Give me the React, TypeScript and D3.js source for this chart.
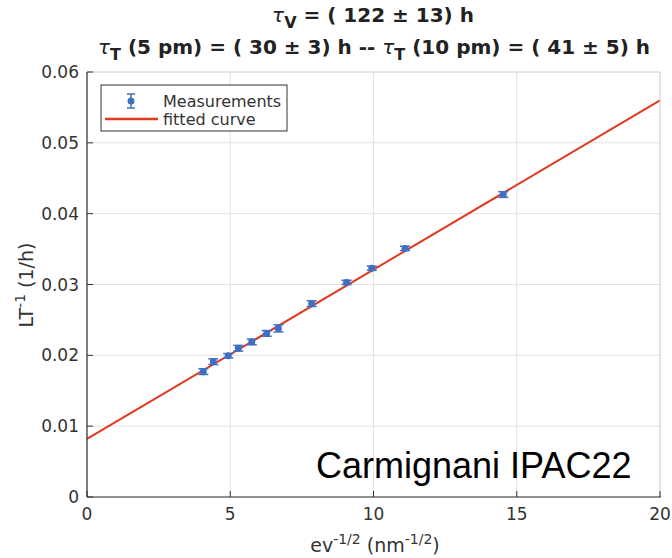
import React from "react";
import * as d3 from "d3";

const xTicks = [0, 5, 10, 15, 20];
const yTicks = [0, 0.01, 0.02, 0.03, 0.04, 0.05, 0.06];
const yTickLabels = ["0", "0.01", "0.02", "0.03", "0.04", "0.05", "0.06"];
const measX = [4.06, 4.41, 4.93, 5.28, 5.75, 6.27, 6.68, 7.84, 9.06, 9.94, 11.1, 14.53];
const measY = [0.0177, 0.0191, 0.01995, 0.021, 0.0219, 0.0231, 0.0238, 0.0273, 0.0303, 0.0323, 0.0351, 0.0427];
const measErr = [0.0004, 0.0004, 0.0003, 0.0004, 0.0004, 0.0004, 0.0005, 0.0004, 0.0003, 0.0003, 0.0003, 0.0004];
const fitIntercept = 0.0082;
const fitSlope = 0.00239;
const fitX = [0, 20];

export default function App() {
  const W = 672, H = 558;
  const x = d3.scaleLinear().domain([0, 20]).range([87, 660]);
  const y = d3.scaleLinear().domain([0, 0.06]).range([497, 72]);
  const line = d3.line<number>().x(d => x(d)).y(d => y(fitIntercept + fitSlope * d));
  const font = "DejaVu Sans, sans-serif";
  const blue = "#3E6FC2";
  const red = "#E0391F";
  return (
    <svg width={W} height={H} style={{ position: "absolute", left: 0, top: 0, background: "#fff" }}>
      <rect width={W} height={H} fill="#fff" />
      {xTicks.map(t => (
        <line key={"gx" + t} x1={x(t)} x2={x(t)} y1={y(0)} y2={y(0.06)} stroke="#e2e2e2" strokeWidth={1} />
      ))}
      {yTicks.map(t => (
        <line key={"gy" + t} x1={x(0)} x2={x(20)} y1={y(t)} y2={y(t)} stroke="#e2e2e2" strokeWidth={1} />
      ))}
      <path d={line(fitX) || ""} stroke={red} strokeWidth={2} fill="none" />
      {measX.map((mx, i) => {
        const cx = x(mx), cy = y(measY[i]);
        const top = y(measY[i] + measErr[i]), bot = y(measY[i] - measErr[i]);
        return (
          <g key={"m" + i}>
            <line x1={cx} x2={cx} y1={top} y2={bot} stroke={blue} strokeWidth={1.5} />
            <line x1={cx - 5} x2={cx + 5} y1={top} y2={top} stroke={blue} strokeWidth={1.5} />
            <line x1={cx - 5} x2={cx + 5} y1={bot} y2={bot} stroke={blue} strokeWidth={1.5} />
            <circle cx={cx} cy={cy} r={3.5} fill={blue} />
          </g>
        );
      })}
      <line x1={x(0)} x2={x(20)} y1={y(0.06)} y2={y(0.06)} stroke="#d8d8d8" />
      <line x1={x(20)} x2={x(20)} y1={y(0)} y2={y(0.06)} stroke="#d8d8d8" />
      <line x1={x(0)} x2={x(20) + 1} y1={y(0)} y2={y(0)} stroke="#333" strokeWidth={1.2} />
      <line x1={x(0)} x2={x(0)} y1={y(0)} y2={y(0.06)} stroke="#333" strokeWidth={1.2} />
      {xTicks.map(t => (
        <g key={"xt" + t}>
          <line x1={x(t)} x2={x(t)} y1={y(0)} y2={y(0) - 6} stroke="#333" />
          <text x={x(t)} y={y(0) + 23} textAnchor="middle" fontFamily={font} fontSize={17} fill="#333">{t}</text>
        </g>
      ))}
      {yTicks.map((t, i) => (
        <g key={"yt" + t}>
          <line x1={x(0)} x2={x(0) + 6} y1={y(t)} y2={y(t)} stroke="#333" />
          <text x={x(0) - 8} y={y(t) + 6} textAnchor="end" fontFamily={font} fontSize={17} fill="#333">{yTickLabels[i]}</text>
        </g>
      ))}
      <text x={375} y={552} textAnchor="middle" fontFamily={font} fontSize={19} fill="#333">
        ev<tspan dy={-8} fontSize={14}>-1/2</tspan><tspan dy={8}> (nm</tspan><tspan dy={-8} fontSize={14}>-1/2</tspan><tspan dy={8}>)</tspan>
      </text>
      <text transform="translate(33,285) rotate(-90)" textAnchor="middle" fontFamily={font} fontSize={19} fill="#333">
        LT<tspan dy={-8} fontSize={14}>-1</tspan><tspan dy={8}> (1/h)</tspan>
      </text>
      <text x={373} y={22} textAnchor="middle" fontFamily={font} fontSize={20} fontWeight="bold" fill="#222">
        <tspan fontStyle="italic" fontWeight="normal">τ</tspan><tspan dy={6} fontSize={16}>V</tspan><tspan dy={-6}> = ( 122 ± 13) h</tspan>
      </text>
      <text x={374} y={54} textAnchor="middle" fontFamily={font} fontSize={20} fontWeight="bold" fill="#222">
        <tspan fontStyle="italic" fontWeight="normal">τ</tspan><tspan dy={6} fontSize={16}>T</tspan><tspan dy={-6}> (5 pm) = ( 30 ± 3) h -- </tspan>
        <tspan fontStyle="italic" fontWeight="normal">τ</tspan><tspan dy={6} fontSize={16}>T</tspan><tspan dy={-6}> (10 pm) = ( 41 ± 5) h</tspan>
      </text>
      <rect x={101} y={85} width={186} height={46} fill="#fff" stroke="#333" strokeWidth={1} />
      <g>
        <line x1={131} x2={131} y1={94} y2={108} stroke={blue} strokeWidth={1.5} />
        <line x1={127} x2={135} y1={94} y2={94} stroke={blue} strokeWidth={1.5} />
        <line x1={127} x2={135} y1={108} y2={108} stroke={blue} strokeWidth={1.5} />
        <circle cx={131} cy={101} r={3.5} fill={blue} />
        <text x={163} y={107} fontFamily={font} fontSize={16} fill="#333">Measurements</text>
        <line x1={105} x2={158} y1={119} y2={119} stroke={red} strokeWidth={2.5} />
        <text x={163} y={125} fontFamily={font} fontSize={16} fill="#333">fitted curve</text>
      </g>
      <text x={316} y={478} fontFamily="Liberation Sans, Arial, sans-serif" fontSize={36} fill="#000">Carmignani IPAC22</text>
    </svg>
  );
}
